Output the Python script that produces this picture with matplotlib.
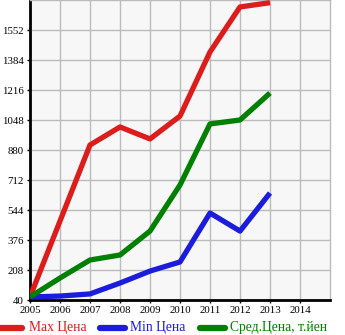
import numpy as np
import matplotlib
matplotlib.use("Agg")
import matplotlib.pyplot as plt
from matplotlib.lines import Line2D

years = [2005, 2006, 2007, 2008, 2009, 2010, 2011, 2012, 2013]
max_price = [57, 482, 908, 1009, 942, 1070, 1429, 1681, 1705]
min_price = [57, 62, 74, 135, 202, 253, 527, 426, 639]
avg_price = [57, 163, 264, 292, 426, 684, 1026, 1048, 1199]

yticks = [40, 208, 376, 544, 712, 880, 1048, 1216, 1384, 1552]
xticks = list(range(2005, 2015))
labels = ["Max Цена", "Min Цена", "Сред.Цена, т.йен"]
colors = ["#dd1c1c", "#1c1cdd", "#008000"]

plt.rcParams['font.family'] = ['Liberation Serif', 'DejaVu Serif']

W, H = 345, 335
fig = plt.figure(figsize=(W / 100, H / 100), dpi=100)
ax = fig.add_axes([30/W, 35/H, 300/W, 300/H])
ax.set_facecolor("#f7f7f7")

for vals, c in zip([max_price, min_price, avg_price], colors):
    ax.plot(years, vals, color=c, lw=3.8, solid_capstyle='butt', zorder=3)

ax.set_xlim(2005, 2015)
ax.set_ylim(40, 1720)
ax.set_xticks(xticks)
ax.set_yticks(yticks)
ax.grid(True, color="#bbbbbb", lw=1)
ax.tick_params(axis='y', labelsize=7.8, length=2.5, width=1, color="black", pad=2)
ax.tick_params(axis='x', labelsize=7.8, length=2.5, width=1, color="black", pad=2)
for s in ["left", "bottom"]:
    ax.spines[s].set_linewidth(2)
    ax.spines[s].set_color("black")
for s in ["top", "right"]:
    ax.spines[s].set_linewidth(1)
    ax.spines[s].set_color("#bbbbbb")

# legend drawn by hand along the bottom
leg_y = 1 - 328 / H
line_x = [(0, 22), (100, 125), (200, 225)]
text_x = [29, 130, 230]
for (x0, x1), tx, lab, c in zip(line_x, text_x, labels, colors):
    fig.add_artist(Line2D([x0 / W, x1 / W], [leg_y, leg_y], color=c, lw=4.5,
                          solid_capstyle='round', transform=fig.transFigure))
    fig.text(tx / W, leg_y, lab, color=c, fontsize=9.8, va='center', ha='left')

fig.savefig("out.png", dpi=100)
